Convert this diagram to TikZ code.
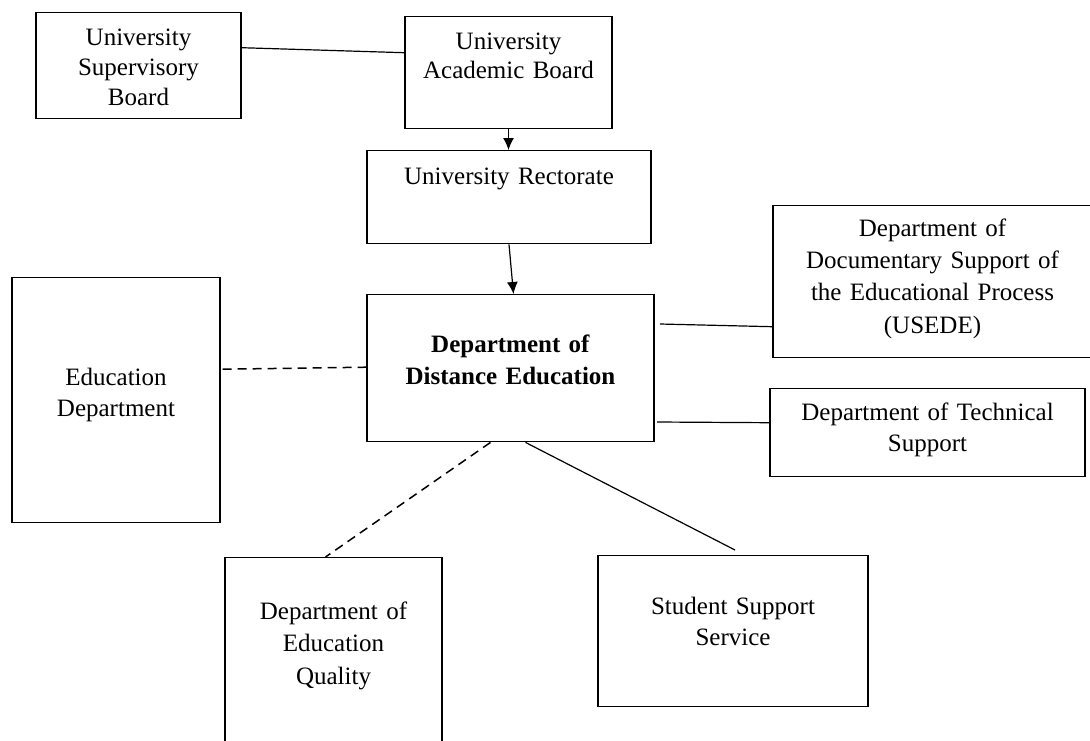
\documentclass[tikz,border=0pt]{standalone}
\usepackage{fontspec}
\setmainfont{Liberation Serif}
\usetikzlibrary{arrows.meta}

\tikzset{
	box/.style={draw, line width=1.4pt, align=center, inner sep=0pt, anchor=north, font=\fontsize{25}{31}\selectfont},
	link/.style={line width=1.2pt},
	dashlink/.style={link, line width=1.5pt, dash pattern=on 9pt off 6pt},
	arrowlink/.style={link, -{Latex[length=12pt,width=11pt]}}
}

\begin{document}
\begin{tikzpicture}[x=1pt, y=-1pt]
\useasboundingbox (0,0) rectangle (1090,740);

% top of the structure
\node[box, text width=205pt, text height=32.5pt, text depth=73.5pt, font=\fontsize{25}{30}\selectfont] (sup) at (138.5,12) {University\\ Supervisory\\ Board};
\node[box, text width=207pt, text height=32.5pt, text depth=79.5pt, font=\fontsize{25}{29}\selectfont] (acad) at (508.5,16) {University\\ Academic Board};
\node[box, text width=284pt, text height=33.5pt, text depth=59.5pt] (rect) at (509,150) {University Rectorate};

% centre and sides
\node[box, text width=287pt, text height=57.5pt, text depth=89.5pt, font=\fontsize{25}{32}\selectfont] (dde) at (510.5,294) {\textbf{Department of}\\ \textbf{Distance Education}};
\node[box, text width=208pt, text height=107.5pt, text depth=137.5pt] (edu) at (116,277) {Education\\ Department};
\node[box, text width=319pt, text height=30.5pt, text depth=121.5pt, font=\fontsize{25}{32.3}\selectfont] (doc) at (932.5,205) {Department of\\ Documentary Support of\\ the Educational Process\\ (USEDE)};
\node[box, text width=315pt, text height=31.5pt, text depth=56.5pt] (tech) at (927.5,388) {Department of Technical\\ Support};

% bottom
\node[box, text width=217pt, text height=61.5pt, text depth=151.5pt, font=\fontsize{25}{32.5}\selectfont] (qual) at (333.5,557) {Department of\\ Education\\ Quality};
\node[box, text width=270pt, text height=58.5pt, text depth=92.5pt] (stud) at (733,555) {Student Support\\ Service};

\coordinate (docend) at (660,324);
\coordinate (techend) at (657,422);
\coordinate (studend) at (735,550);

\draw[link] ([yshift=18pt]sup.east) -- ([yshift=20pt]acad.west);
\draw[arrowlink] (acad.south) -- (acad.south |- rect.north);
\draw[arrowlink] (rect.south) -- ([xshift=3pt]dde.north);
\draw[dashlink] ([xshift=2pt, yshift=31pt]edu.east) -- ([yshift=1pt]dde.west);
\draw[link] (docend) -- ([yshift=-45pt]doc.west);
\draw[link] (techend) -- ([yshift=10pt]tech.west);
\draw[dashlink] ([xshift=-20pt]dde.south) -- ([xshift=-8pt]qual.north);
\draw[link] ([xshift=15pt]dde.south) -- (studend);
\end{tikzpicture}
\end{document}
